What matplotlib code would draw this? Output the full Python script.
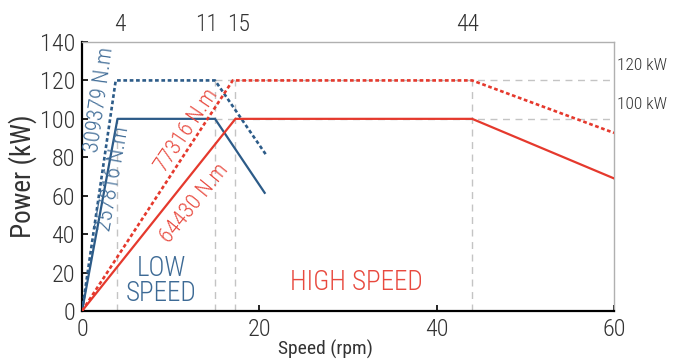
import matplotlib
matplotlib.use("Agg")
import matplotlib.pyplot as plt

plt.rcParams['font.family'] = ['Roboto Condensed', 'Liberation Sans Narrow', 'Roboto', 'DejaVu Sans']
plt.rcParams['font.weight'] = 'light'

# motor curves (speed in rpm, power in kW)
low_x_100 = [0, 4, 15, 20.6]
low_p_100 = [0, 100, 100, 61.5]
low_x_120 = [0, 3.8, 15, 20.8]
low_p_120 = [0, 120, 120, 81]
high_x_100 = [0, 17.3, 44, 60]
high_p_100 = [0, 100, 100, 69]
high_x_120 = [0, 17.0, 44, 60]
high_p_120 = [0, 120, 120, 92.7]

guide_x = [4, 15, 17.3, 44]
guide_top = [100, 120, 120, 120]
power_levels = [120, 100]
power_labels = ['120 kW', '100 kW']
top_tick_pos = [4.3, 14.0, 17.7, 43.5]
top_tick_labels = ['4', '11', '15', '44']

torque_labels = ['309379 N.m', '257816 N.m', '77316 N.m', '64430 N.m']

blue = '#2c5b88'
red = '#e5392d'
blue_txt = '#3d6a95'
red_txt = '#e8493e'
grey = '#c4c4c4'
txt = '#333333'

fig = plt.figure(figsize=(6.74, 3.63), dpi=100)
ax = fig.add_axes([0.1217, 0.1433, 0.7893, 0.7410])

for gx, gt in zip(guide_x, guide_top):
    ax.plot([gx, gx], [0, gt], color=grey, lw=1, ls=(0, (5, 4)), zorder=1)
for lvl in power_levels:
    ax.plot([15, 60], [lvl, lvl], color=grey, lw=1, ls=(0, (5, 4)), zorder=1)

dots = (0, (1.4, 1.0))
ax.plot(low_x_120, low_p_120, color=blue, lw=1.9, ls=dots, zorder=3)
ax.plot(low_x_100, low_p_100, color=blue, lw=1.6, zorder=3)
ax.plot(high_x_120, high_p_120, color=red, lw=1.9, ls=dots, zorder=3)
ax.plot(high_x_100, high_p_100, color=red, lw=1.6, zorder=3)

ax.text(2.0, 110, torque_labels[0], color=blue_txt, fontsize=16, rotation=82,
        ha='center', va='center')
ax.text(3.55, 69, torque_labels[1], color=blue_txt, fontsize=16, rotation=80,
        ha='center', va='center')
ax.text(11.8, 94, torque_labels[2], color=red_txt, fontsize=16, rotation=56,
        ha='center', va='center')
ax.text(12.7, 56, torque_labels[3], color=red_txt, fontsize=16, rotation=51,
        ha='center', va='center')

ax.text(8.9, 15.6, 'LOW\nSPEED', color=blue_txt, fontsize=19.5, ha='center',
        va='center', linespacing=0.9)
ax.text(30.9, 15, 'HIGH SPEED', color=red_txt, fontsize=19.5, ha='center',
        va='center')

# power level tags outside the right spine
for lvl, lab in zip(power_levels, power_labels):
    ax.annotate(lab, xy=(60, lvl), xytext=(2, 5), textcoords='offset points',
                color=txt, fontsize=12.5, ha='left', va='bottom',
                annotation_clip=False)

ax.set_xlim(0, 60)
ax.set_ylim(0, 140)
ax.set_xticks([0, 20, 40, 60])
ax.set_yticks(range(0, 141, 20))
ax.tick_params(axis='x', direction='in', length=4, width=1.2, pad=5,
               labelsize=17.5, colors='black', labelcolor=txt)
ax.tick_params(axis='y', direction='in', length=4, width=1.2, pad=5,
               labelsize=17.5, colors='black', labelcolor=txt)

for side in ['left', 'bottom']:
    ax.spines[side].set_color('black')
    ax.spines[side].set_linewidth(1.6)
for side in ['top', 'right']:
    ax.spines[side].set_color('#b0b0b0')
    ax.spines[side].set_linewidth(1.0)

ax.set_ylabel('Power (kW)', fontsize=19.5, color=txt, labelpad=2)
ax.set_xlabel('Speed (rpm)', fontsize=14, color=txt, labelpad=-1, x=0.457)

top = ax.secondary_xaxis('top')
top.set_xticks(top_tick_pos)
top.set_xticklabels(top_tick_labels)
top.tick_params(length=0, pad=4, labelsize=17, labelcolor=txt)
top.spines['top'].set_visible(False)

fig.savefig('out.png', dpi=100)
